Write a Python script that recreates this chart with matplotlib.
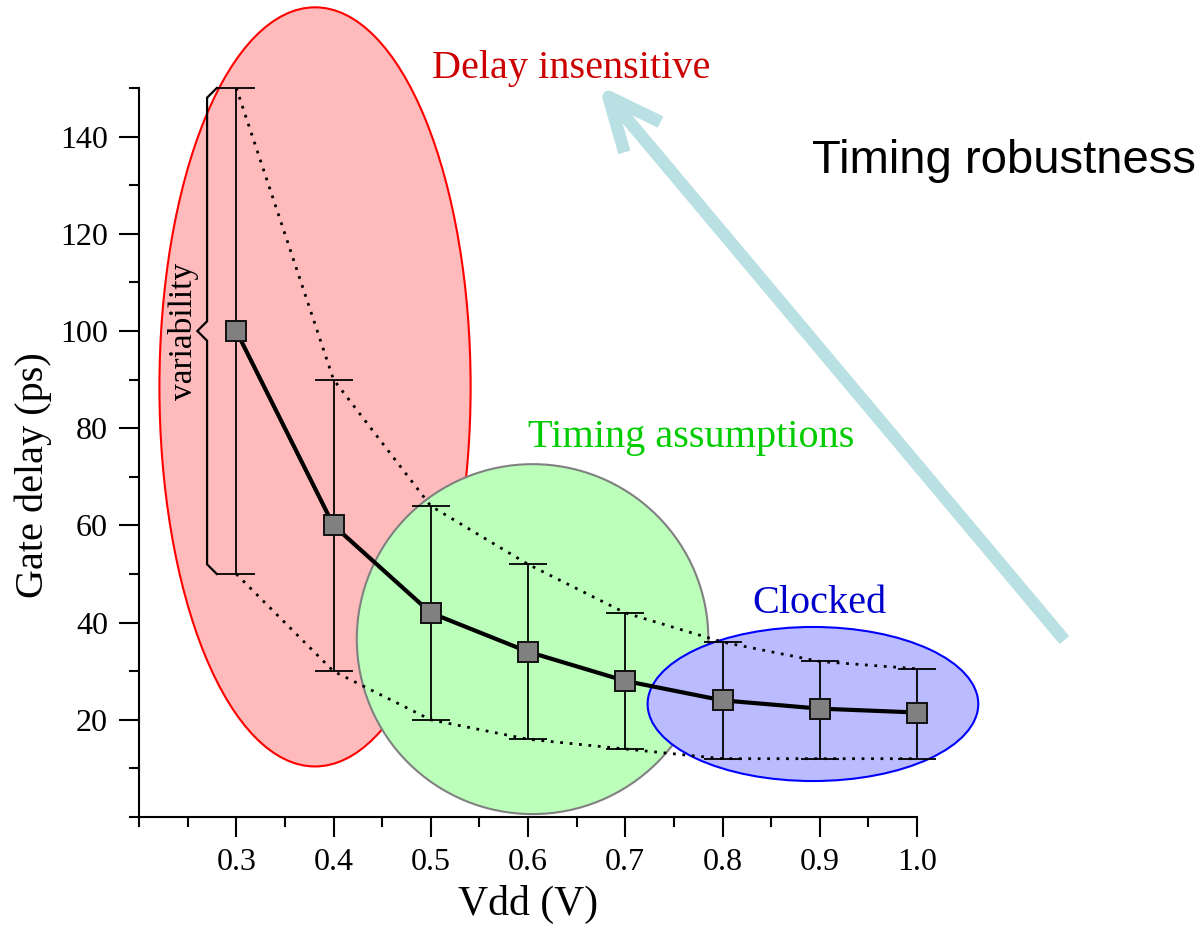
#!/usr/bin/env python3
"""Gate delay vs Vdd with timing-robustness regions"""

import numpy as np
import matplotlib
matplotlib.use('Agg')
import matplotlib.pyplot as plt
from matplotlib.patches import Ellipse

# ── data ──
vdd = [0.3, 0.4, 0.5, 0.6, 0.7, 0.8, 0.9, 1.0]
delay = [100, 60, 42, 34, 28, 24, 22.3, 21.5]
delay_hi = [150, 90, 64, 52, 42, 36, 32, 30.5]
delay_lo = [50, 30, 20, 16, 14, 12, 12, 12]

x_ticks = [0.3, 0.4, 0.5, 0.6, 0.7, 0.8, 0.9, 1.0]
x_tick_labels = ['0.3', '0.4', '0.5', '0.6', '0.7', '0.8', '0.9', '1.0']
x_minor = [0.2, 0.25, 0.35, 0.45, 0.55, 0.65, 0.75, 0.85, 0.95]
y_ticks = [20, 40, 60, 80, 100, 120, 140]
y_minor = [0, 10, 30, 50, 70, 90, 110, 130, 150]

plt.rcParams['font.family'] = ['Liberation Serif', 'DejaVu Serif']

W, H = 1204, 931
fig = plt.figure(figsize=(W / 100, H / 100), dpi=100)
ax = fig.add_axes([139 / W, 1 - 817 / H, (917 - 139) / W, (817 - 88) / H])
ax.set_xlim(0.2, 1.0)
ax.set_ylim(0, 150)

# ── regions ──
regions = [
    ((0.381, 88.5), 0.320, 156.2, '#ffbbbb', '#ff0000'),   # delay insensitive
    ((0.6047, 36.6), 0.3615, 72.0, '#bbffbb', '#808080'),  # timing assumptions
    ((0.893, 23.25), 0.340, 31.7, '#bbbbff', '#0000ff'),   # clocked
]
for i, (c, w, h, fc, ec) in enumerate(regions):
    ax.add_patch(Ellipse(c, w, h, facecolor=fc, edgecolor=ec, lw=1.5,
                         clip_on=False, zorder=1 + i))

# ── variability envelope ──
ax.plot(vdd, delay_hi, color='black', lw=2, ls=(0, (1, 2.4)), zorder=5,
        clip_on=False)
ax.plot(vdd, delay_lo, color='black', lw=2, ls=(0, (1, 2.4)), zorder=5,
        clip_on=False)

# ── error bars + mean curve ──
yerr = [np.subtract(delay, delay_lo), np.subtract(delay_hi, delay)]
eb = ax.errorbar(vdd, delay, yerr=yerr, fmt='none', ecolor='black',
                 elinewidth=1.3, capsize=14, capthick=1.3, zorder=6)
for art in eb.lines[1] + eb.lines[2]:
    art.set_clip_on(False)
ax.plot(vdd, delay, color='black', lw=3, zorder=7, clip_on=False)
ax.plot(vdd, delay, ls='none', marker='s', ms=14, mfc='#808080', mec='#111111',
        mew=1.4, zorder=8, clip_on=False)

# ── brace marking the spread of the first point ──
bx = vdd[0] - 0.030
bd = 0.010
bn = 2.0
ax.plot([bx + bd, bx, bx, bx - bd, bx, bx, bx + bd],
        [delay_hi[0], delay_hi[0] - bn, delay[0] + bn, delay[0],
         delay[0] - bn, delay_lo[0] + bn, delay_lo[0]],
        color='black', lw=1.6, zorder=6, clip_on=False, solid_joinstyle='miter')
ax.text(bx - 0.0245, delay[0], 'variability', rotation=90, fontsize=24,
        ha='center', va='center', zorder=9)

# ── robustness arrow ──
ax.annotate('', xy=(0.6727, 150.6), xytext=(1.1516, 36.4),
            arrowprops=dict(arrowstyle='->,head_length=38,head_width=17',
                            mutation_scale=1, lw=9, color='#b9e0e3',
                            shrinkA=0, shrinkB=0, capstyle='butt'),
            annotation_clip=False, zorder=0)

# ── labels ──
fig.text(432 / W, 1 - 78 / H, 'Delay insensitive', color='#cc0000',
         fontsize=29, ha='left', va='baseline')
fig.text(528 / W, 1 - 447 / H, 'Timing assumptions', color='#00cc00',
         fontsize=29, ha='left', va='baseline')
fig.text(752 / W, 1 - 613 / H, 'Clocked', color='#0000cc',
         fontsize=29, ha='left', va='baseline')
fig.text(812 / W, 1 - 173 / H, 'Timing robustness', color='black',
         fontsize=34, ha='left', va='baseline', family='Liberation Sans')

# ── axes styling ──
for s in ['top', 'right']:
    ax.spines[s].set_visible(False)
for s in ['left', 'bottom']:
    ax.spines[s].set_linewidth(1.5)
    ax.spines[s].set_zorder(10)

ax.set_xticks(x_ticks)
ax.set_xticklabels(x_tick_labels)
ax.set_xticks(x_minor, minor=True)
ax.set_yticks(y_ticks)
ax.set_yticks(y_minor, minor=True)
ax.tick_params(which='major', direction='out', length=14.4, width=1.5,
               labelsize=23, pad=8)
ax.tick_params(which='minor', direction='out', length=7.2, width=1.5)

ax.set_xlabel('Vdd (V)', fontsize=30)
ax.set_ylabel('Gate delay (ps)', fontsize=29)
ax.xaxis.set_label_coords(0.5, -0.093)
ax.yaxis.set_label_coords(-0.112, 0.469)

plt.savefig('out.png', dpi=100)
